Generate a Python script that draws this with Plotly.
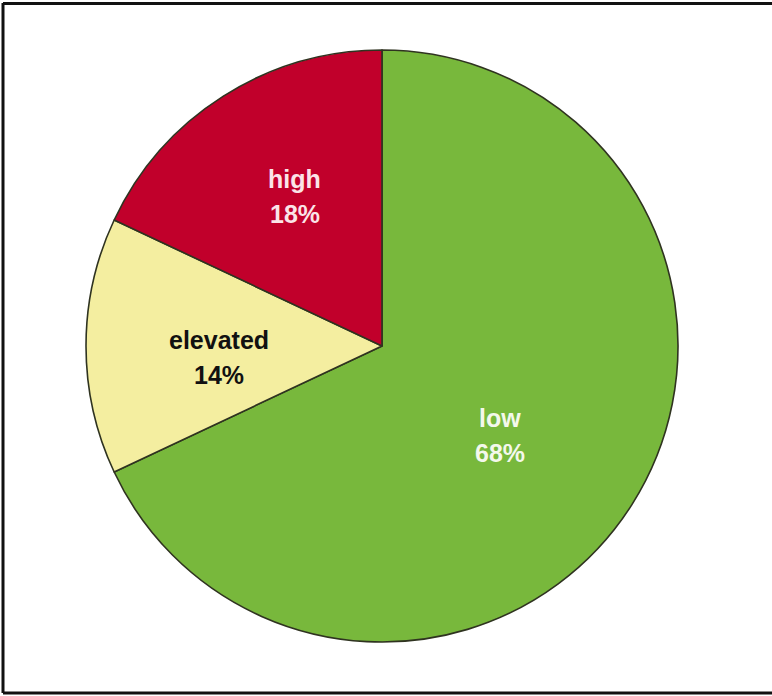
import math
import plotly.graph_objects as go

# Risk category shares (percent), drawn clockwise from 12 o'clock
categories = ["low", "elevated", "high"]
shares = [68, 14, 18]
slice_colors = ["#78B83C", "#F4EEA0", "#C1002B"]
label_colors = ["#F4F8EC", "#111111", "#FBE4E8"]

# label placement: radius fraction of the pie and small angular nudge (degrees)
label_radius = [0.50, 0.552, 0.585]
label_nudge = [4.9, -4.2, 2.2]

W, H = 772, 696
# pie box in pixels
px0, px1, py0, py1 = 86, 678, 50, 642
cx, cy = (px0 + px1) / 2, (py0 + py1) / 2
R = (px1 - px0) / 2

fig = go.Figure(
    go.Pie(
        labels=categories,
        values=shares,
        sort=False,
        direction="clockwise",
        rotation=0,
        marker=dict(colors=slice_colors, line=dict(color="#2f3320", width=1.6)),
        textinfo="none",
        hoverinfo="label+percent",
        showlegend=False,
        domain=dict(x=[px0 / W, px1 / W], y=[1 - py1 / H, 1 - py0 / H]),
    )
)

total = sum(shares)
start = 0.0
annotations = []
line_gap = 35  # px between the name line and the percent line
for name, v, col, rf, nudge in zip(categories, shares, label_colors, label_radius, label_nudge):
    frac = v / total
    mid = (start + frac / 2) * 360 + nudge
    start += frac
    a = math.radians(mid)
    x = cx + rf * R * math.sin(a)
    y = cy - rf * R * math.cos(a)
    for txt, shift in ((name, line_gap / 2), (f"{round(frac * 100)}%", -line_gap / 2)):
        annotations.append(
            dict(
                x=x / W, y=1 - y / H, xref="paper", yref="paper", yshift=shift,
                text=f"<b>{txt}</b>",
                showarrow=False,
                font=dict(family="Liberation Sans, Arial, sans-serif", size=25, color=col),
                align="center", xanchor="center", yanchor="middle",
            )
        )

# frame around the chart (open on the right)
frame = dict(color="#111111", width=3)
shapes = [
    dict(type="line", xref="paper", yref="paper", x0=3 / W, x1=3 / W, y0=1 - 693 / H, y1=1 - 3 / H, line=frame),
    dict(type="line", xref="paper", yref="paper", x0=3 / W, x1=1.0, y0=1 - 3.5 / H, y1=1 - 3.5 / H, line=frame),
    dict(type="line", xref="paper", yref="paper", x0=3 / W, x1=1.0, y0=1 - 693 / H, y1=1 - 693 / H, line=frame),
]

fig.update_layout(
    width=W, height=H,
    margin=dict(l=0, r=0, t=0, b=0),
    paper_bgcolor="white", plot_bgcolor="white",
    annotations=annotations,
    shapes=shapes,
)

fig.write_html("out.html")
